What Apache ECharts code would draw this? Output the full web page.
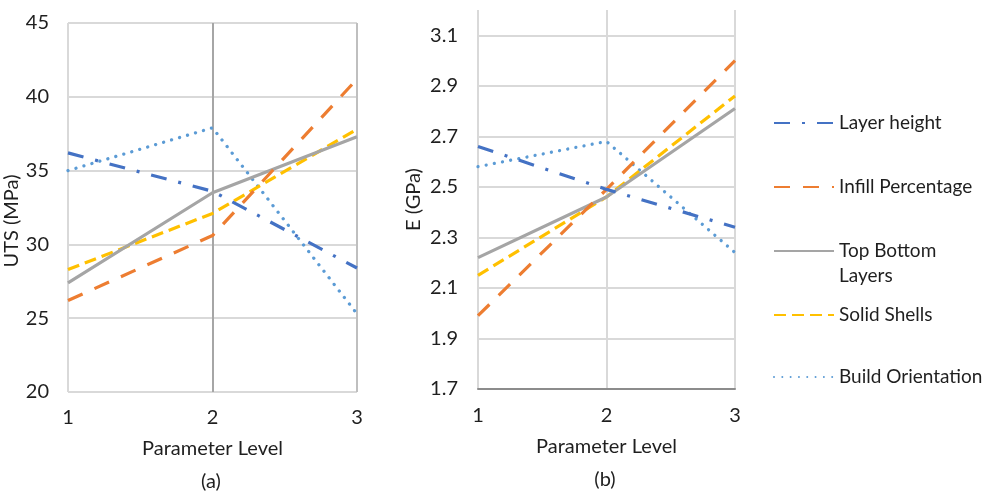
<!DOCTYPE html>
<html>
<head>
<meta charset="utf-8">
<script src="https://cdn.jsdelivr.net/npm/echarts@6/dist/echarts.min.js"></script>
<style>
  html, body { margin: 0; padding: 0; background: #fff; }
  #chart { width: 982px; height: 494px; }
</style>
</head>
<body>
<div id="chart"></div>
<script>
// parameter levels on the x axis
const levels = [1, 2, 3];

// (a) UTS in MPa
const utsLayerHeight = [36.2, 33.6, 28.4];
const utsInfill = [26.2, 30.6, 41.2];
const utsTopBottom = [27.4, 33.5, 37.3];
const utsSolidShells = [28.3, 32.1, 37.8];
const utsBuildOrientation = [35.0, 37.9, 25.3];

// (b) E in GPa
const eLayerHeight = [2.66, 2.49, 2.34];
const eInfill = [1.99, 2.49, 3.00];
const eTopBottom = [2.22, 2.46, 2.81];
const eSolidShells = [2.15, 2.46, 2.86];
const eBuildOrientation = [2.58, 2.68, 2.24];

const seriesNames = ['Layer height', 'Infill Percentage', 'Top Bottom Layers', 'Solid Shells', 'Build Orientation'];

const FONT = 'Lato';
const TEXT = '#1f1f1f';

// line look per series (Excel-ish dash patterns)
const styles = [
  { color: '#4472C4', width: 3.2, type: [16, 12, 3, 12], cap: 'butt' },
  { color: '#ED7D31', width: 3.2, type: [16, 13], cap: 'butt' },
  { color: '#A5A5A5', width: 3.2, type: 'solid', cap: 'butt' },
  { color: '#FFC000', width: 3.2, type: [12, 6], cap: 'butt' },
  { color: '#5B9BD5', width: 3.3, type: [0.01, 8.3], cap: 'round' },
];

const toPairs = vals => levels.map((lv, i) => [lv, vals[i]]);

const utsData = [utsLayerHeight, utsInfill, utsTopBottom, utsSolidShells, utsBuildOrientation];
const eData = [eLayerHeight, eInfill, eTopBottom, eSolidShells, eBuildOrientation];

const series = [];
seriesNames.forEach((name, i) => {
  const s = styles[i];
  [utsData[i], eData[i]].forEach((vals, g) => {
    series.push({
      name: name,
      type: 'line',
      xAxisIndex: g,
      yAxisIndex: g,
      symbol: 'none',
      silent: true,
      z: 10 - i,
      lineStyle: { color: s.color, width: s.width, type: s.type, cap: s.cap },
      itemStyle: { color: s.color },
      data: toPairs(vals),
    });
  });
});

// one legend per entry so the rows sit where the reference has them
const legendRows = [123, 187, 251, 315, 377];
const legends = seriesNames.map((name, i) => {
  const twoLine = name === 'Top Bottom Layers';
  return {
    data: [name],
    orient: 'vertical',
    left: 773,
    // the text block is taller than the symbol, so shift by half its height
    top: legendRows[i] - (twoLine ? 37.5 : 12.5),
    padding: 0,
    itemWidth: 60,
    itemHeight: 14,
    itemGap: 0,
    selectedMode: false,
    itemStyle: { opacity: 0 },
    // empty first line keeps "Top Bottom" level with the line sample
    formatter: n => twoLine ? ' \nTop Bottom\nLayers' : n,
    textStyle: { fontFamily: FONT, fontSize: 19, color: TEXT, lineHeight: 25 },
  };
});

const axisLabelStyle = { fontFamily: FONT, fontSize: 20, color: TEXT };
const axisNameStyle = { fontFamily: FONT, fontSize: 20, color: TEXT };

const option = {
  animation: false,
  backgroundColor: '#fff',
  title: [
    { text: '(a)', left: 211, top: 472, textAlign: 'center', padding: 0,
      textStyle: { fontFamily: FONT, fontSize: 20, fontWeight: 'normal', color: TEXT } },
    { text: '(b)', left: 605, top: 470, textAlign: 'center', padding: 0,
      textStyle: { fontFamily: FONT, fontSize: 20, fontWeight: 'normal', color: TEXT } },
  ],
  legend: legends,
  grid: [
    { left: 68, top: 23, width: 289, height: 369 },
    { left: 478, top: 10, width: 257, height: 379 },
  ],
  xAxis: [
    {
      gridIndex: 0, type: 'value', min: 1, max: 3, interval: 1,
      name: 'Parameter Level', nameLocation: 'middle', nameGap: 47,
      nameTextStyle: axisNameStyle,
      axisLine: { show: false }, axisTick: { show: false },
      axisLabel: Object.assign({ margin: 16 }, axisLabelStyle),
      splitLine: { show: true, lineStyle: { color: ['#d9d9d9', '#a6a6a6', '#bfbfbf'], width: 2 } },
    },
    {
      gridIndex: 1, type: 'value', min: 1, max: 3, interval: 1,
      name: 'Parameter Level', nameLocation: 'middle', nameGap: 48,
      nameTextStyle: axisNameStyle,
      axisLine: { show: true, lineStyle: { color: '#8c8c8c', width: 2 } },
      axisTick: { show: false },
      axisLabel: Object.assign({ margin: 17 }, axisLabelStyle),
      splitLine: { show: true, lineStyle: { color: '#d9d9d9', width: 2 } },
    },
  ],
  yAxis: [
    {
      gridIndex: 0, type: 'value', min: 20, max: 45, interval: 5,
      name: 'UTS (MPa)', nameLocation: 'middle', nameGap: 35, nameRotate: 90,
      nameTextStyle: Object.assign({ padding: [0, 27, 0, 0] }, axisNameStyle),
      axisLine: { show: false }, axisTick: { show: false },
      axisLabel: Object.assign({ margin: 19 }, axisLabelStyle),
      splitLine: { show: true, lineStyle: { color: '#d9d9d9', width: 2 } },
    },
    {
      gridIndex: 1, type: 'value', min: 1.7, max: 3.2, interval: 0.2,
      name: 'E (GPa)', nameLocation: 'middle', nameGap: 54, nameRotate: 90,
      nameTextStyle: axisNameStyle,
      axisLine: { show: false }, axisTick: { show: false },
      axisLabel: Object.assign({
        margin: 20,
        showMaxLabel: false,
        formatter: v => v.toFixed(1),
      }, axisLabelStyle),
      splitLine: {
        show: true,
        lineStyle: {
          color: ['#d9d9d9', '#d9d9d9', '#d9d9d9', '#d9d9d9', '#d9d9d9', '#d9d9d9', '#d9d9d9', '#d9d9d9', 'rgba(0,0,0,0)'],
          width: 2,
        },
      },
    },
  ],
  series: series,
};

const chart = echarts.init(document.getElementById('chart'), null, { renderer: 'canvas' });
chart.setOption(option);
</script>
</body>
</html>
